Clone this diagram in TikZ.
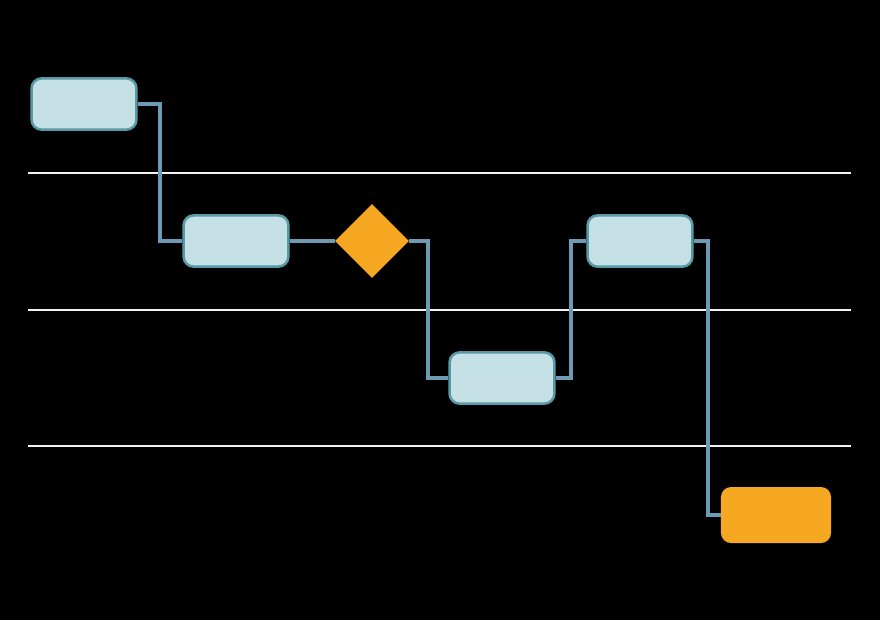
\documentclass[tikz,border=0pt]{standalone}
\usetikzlibrary{shapes.geometric}
\definecolor{taskfill}{HTML}{C5E1E6}
\definecolor{taskdraw}{HTML}{5A9AA6}
\definecolor{flowline}{HTML}{6E9AB3}
\definecolor{gateorange}{HTML}{F6A823}
\begin{document}
\begin{tikzpicture}[x=0.025cm,y=-0.025cm]
\tikzstyle{task} = [rectangle,rounded corners=0.25cm,fill=taskfill,draw=taskdraw,line width=1.8pt,minimum width=2.62cm,minimum height=1.28cm,inner sep=0pt]
\tikzstyle{stop} = [rectangle,rounded corners=0.25cm,fill=gateorange,minimum width=2.75cm,minimum height=1.4cm,inner sep=0pt]
\tikzstyle{gate} = [diamond,fill=gateorange,minimum width=1.85cm,minimum height=1.85cm,inner sep=0pt]
\tikzstyle{flow} = [-,draw=flowline,line width=2.2pt]
\tikzstyle{lane} = [-,draw=white!90!gray,line width=1pt]
\fill[black] (0,0) rectangle (880,620);
\draw[lane] (28,173) -- (851,173);
\draw[lane] (28,310) -- (851,310);
\draw[lane] (28,446) -- (851,446);
\node[task] (t1) at (84,104) {};
\node[task] (t2) at (236,241) {};
\node[gate] (g1) at (372,241) {};
\node[task] (t3) at (502,378) {};
\node[task] (t4) at (640,241) {};
\node[stop] (e1) at (776,515) {};
\draw[flow] (t1.east) -- (160,104) -- (160,241) -- (t2.west);
\draw[flow] (t2.east) -- (g1.west);
\draw[flow] (g1.east) -- (428,241) -- (428,378) -- (t3.west);
\draw[flow] (t3.east) -- (571,378) -- (571,241) -- (t4.west);
\draw[flow] (t4.east) -- (708,241) -- (708,515) -- (e1.west);
\end{tikzpicture}
\end{document}
